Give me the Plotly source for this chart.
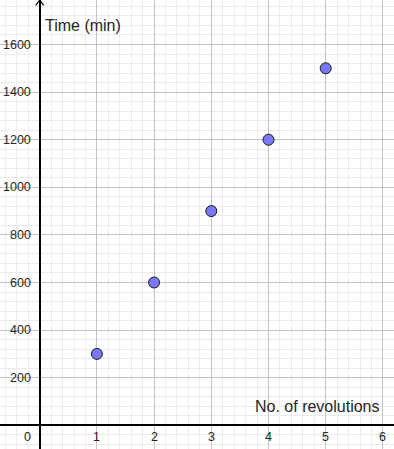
import plotly.graph_objects as go

revolutions = [1, 2, 3, 4, 5]
time_min = [300, 600, 900, 1200, 1500]
x_tick_vals = [0, 1, 2, 3, 4, 5, 6]
y_tick_vals = [200, 400, 600, 800, 1000, 1200, 1400, 1600]
x_title = "No. of revolutions"
y_title = "Time (min)"

FONT = "Liberation Sans, Arial, sans-serif"
TXT = "#262626"

fig = go.Figure()
fig.add_trace(go.Scatter(
    x=revolutions, y=time_min, mode="markers",
    marker=dict(size=11, color="#7878f8", line=dict(color="#1a1a1a", width=1)),
    hoverinfo="x+y", showlegend=False,
))

axis_common = dict(
    showgrid=True, gridcolor="#c4c4c4", gridwidth=1,
    zeroline=True, zerolinecolor="#000000", zerolinewidth=1.5,
    showticklabels=False, ticks="", showline=False, fixedrange=True,
)
fig.update_xaxes(range=[-0.694, 6.194], dtick=1, tick0=0,
                 minor=dict(dtick=0.2, showgrid=True, gridcolor="#ebebeb", gridwidth=1),
                 **axis_common)
fig.update_yaxes(range=[-99.6, 1787], dtick=200, tick0=0,
                 minor=dict(dtick=40, showgrid=True, gridcolor="#ebebeb", gridwidth=1),
                 **axis_common)

annotations = []
for v in y_tick_vals:
    annotations.append(dict(x=0, y=v, xref="x", yref="y", text=str(v), showarrow=False,
                            xanchor="right", yanchor="middle", xshift=-7,
                            font=dict(family=FONT, size=12.5, color=TXT)))
for v in x_tick_vals:
    annotations.append(dict(x=v, y=0, xref="x", yref="y", text=str(v), showarrow=False,
                            xanchor="center", yanchor="middle", yshift=-12,
                            xshift=(-12 if v == 0 else 0),
                            font=dict(family=FONT, size=12.5, color=TXT)))
annotations.append(dict(x=0, y=1, xref="x", yref="paper", text=y_title, showarrow=False,
                        xanchor="left", yanchor="middle", xshift=3, yshift=-25,
                        font=dict(family=FONT, size=16, color=TXT)))
annotations.append(dict(x=1, y=0, xref="paper", yref="y", text=x_title, showarrow=False,
                        xanchor="right", yanchor="middle", xshift=-12, yshift=19,
                        font=dict(family=FONT, size=16, color=TXT)))

# arrowhead on top of y axis
fig.add_shape(type="path", xref="x", yref="paper",
              path="M -0.07,0.988 L 0,0.9995 L 0.07,0.988",
              line=dict(color="#000000", width=1.2))

fig.update_layout(
    width=394, height=449, margin=dict(l=0, r=0, t=0, b=0),
    paper_bgcolor="white", plot_bgcolor="white",
    annotations=annotations, showlegend=False,
)
fig.write_html(
    "out.html",
    config={"displayModeBar": False},
    post_script="document.body.style.margin='0';document.body.style.overflow='hidden';",
)
